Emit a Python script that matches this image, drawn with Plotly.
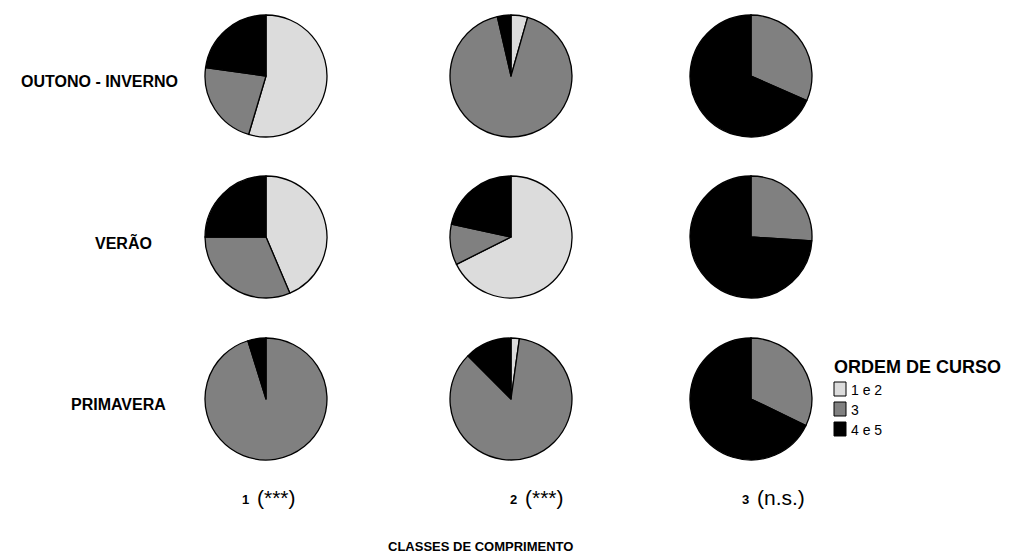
import plotly.graph_objects as go

# ---- data ----
categories = ["1 e 2", "3", "4 e 5"]
colors = ["#dcdcdc", "#808080", "#000000"]
seasons = ["OUTONO - INVERNO", "VERÃO", "PRIMAVERA"]
classes = ["1", "2", "3"]
significance = ["(***)", "(***)", "(n.s.)"]

outono_inverno = [[54.6, 22.6, 22.8], [4.4, 92.0, 3.6], [0.0, 31.6, 68.4]]
verao = [[43.6, 31.4, 25.0], [67.6, 10.8, 21.6], [0.0, 26.0, 74.0]]
primavera = [[0.0, 95.2, 4.8], [2.2, 85.3, 12.5], [0.0, 32.2, 67.8]]
season_values = [outono_inverno, verao, primavera]

# ---- layout (pixels) ----
W, H = 1031, 555
col_cx = [266, 511, 751]
row_cy = [76, 237, 399]
R = 61

fig = go.Figure()
for i, season in enumerate(seasons):
    for j, cls in enumerate(classes):
        cx, cy = col_cx[j], row_cy[i]
        fig.add_trace(go.Pie(
            labels=categories,
            values=season_values[i][j],
            marker=dict(colors=colors, line=dict(color="#000000", width=1.3)),
            sort=False, direction="clockwise", rotation=0,
            textinfo="none", showlegend=False,
            domain=dict(x=[(cx - R) / W, (cx + R) / W],
                        y=[1 - (cy + R) / H, 1 - (cy - R) / H]),
            name=f"{season} - {cls}",
        ))

bold_font = "Liberation Sans, Arial"
annotations = []
label_right = [180, 154, 168]
for i, season in enumerate(seasons):
    annotations.append(dict(
        x=label_right[i] / W, y=1 - (row_cy[i] + 5) / H, xref="paper", yref="paper",
        text=f"<b>{season}</b>", showarrow=False, xanchor="right", yanchor="middle",
        font=dict(family=bold_font, size=16, color="#000")))

col_label_x = [251, 519, 751]
for j, cls in enumerate(classes):
    annotations.append(dict(
        x=col_label_x[j] / W, y=1 - 499 / H, xref="paper", yref="paper",
        text=f"<b>{cls}</b>", showarrow=False, xanchor="right", yanchor="middle",
        font=dict(family=bold_font, size=13, color="#000")))
    annotations.append(dict(
        x=(col_label_x[j] + 4) / W, y=1 - 497 / H, xref="paper", yref="paper",
        text=significance[j], showarrow=False, xanchor="left", yanchor="middle",
        font=dict(family="Liberation Sans, Arial", size=21, color="#000")))

annotations.append(dict(
    x=480 / W, y=1 - 546 / H, xref="paper", yref="paper",
    text="<b>CLASSES DE COMPRIMENTO</b>", showarrow=False, xanchor="center", yanchor="middle",
    font=dict(family=bold_font, size=13, color="#000")))

# legend (custom)
annotations.append(dict(
    x=832 / W, y=1 - 367 / H, xref="paper", yref="paper",
    text="<b>ORDEM DE CURSO</b>", showarrow=False, xanchor="left", yanchor="middle",
    font=dict(family=bold_font, size=18, color="#000")))
shapes = []
for k, cat in enumerate(categories):
    yc = 389 + 20 * k
    shapes.append(dict(type="rect", xref="paper", yref="paper",
                       x0=834 / W, x1=846 / W, y0=1 - (yc + 7) / H, y1=1 - (yc - 7) / H,
                       fillcolor=colors[k], line=dict(color="#000", width=1)))
    annotations.append(dict(
        x=849 / W, y=1 - (yc + 1) / H, xref="paper", yref="paper",
        text=cat, showarrow=False, xanchor="left", yanchor="middle",
        font=dict(family="Liberation Sans, Arial", size=14, color="#000")))

fig.update_layout(
    width=W, height=H, margin=dict(l=0, r=0, t=0, b=0),
    paper_bgcolor="white", plot_bgcolor="white",
    annotations=annotations, shapes=shapes,
)
fig.write_html("out.html")
